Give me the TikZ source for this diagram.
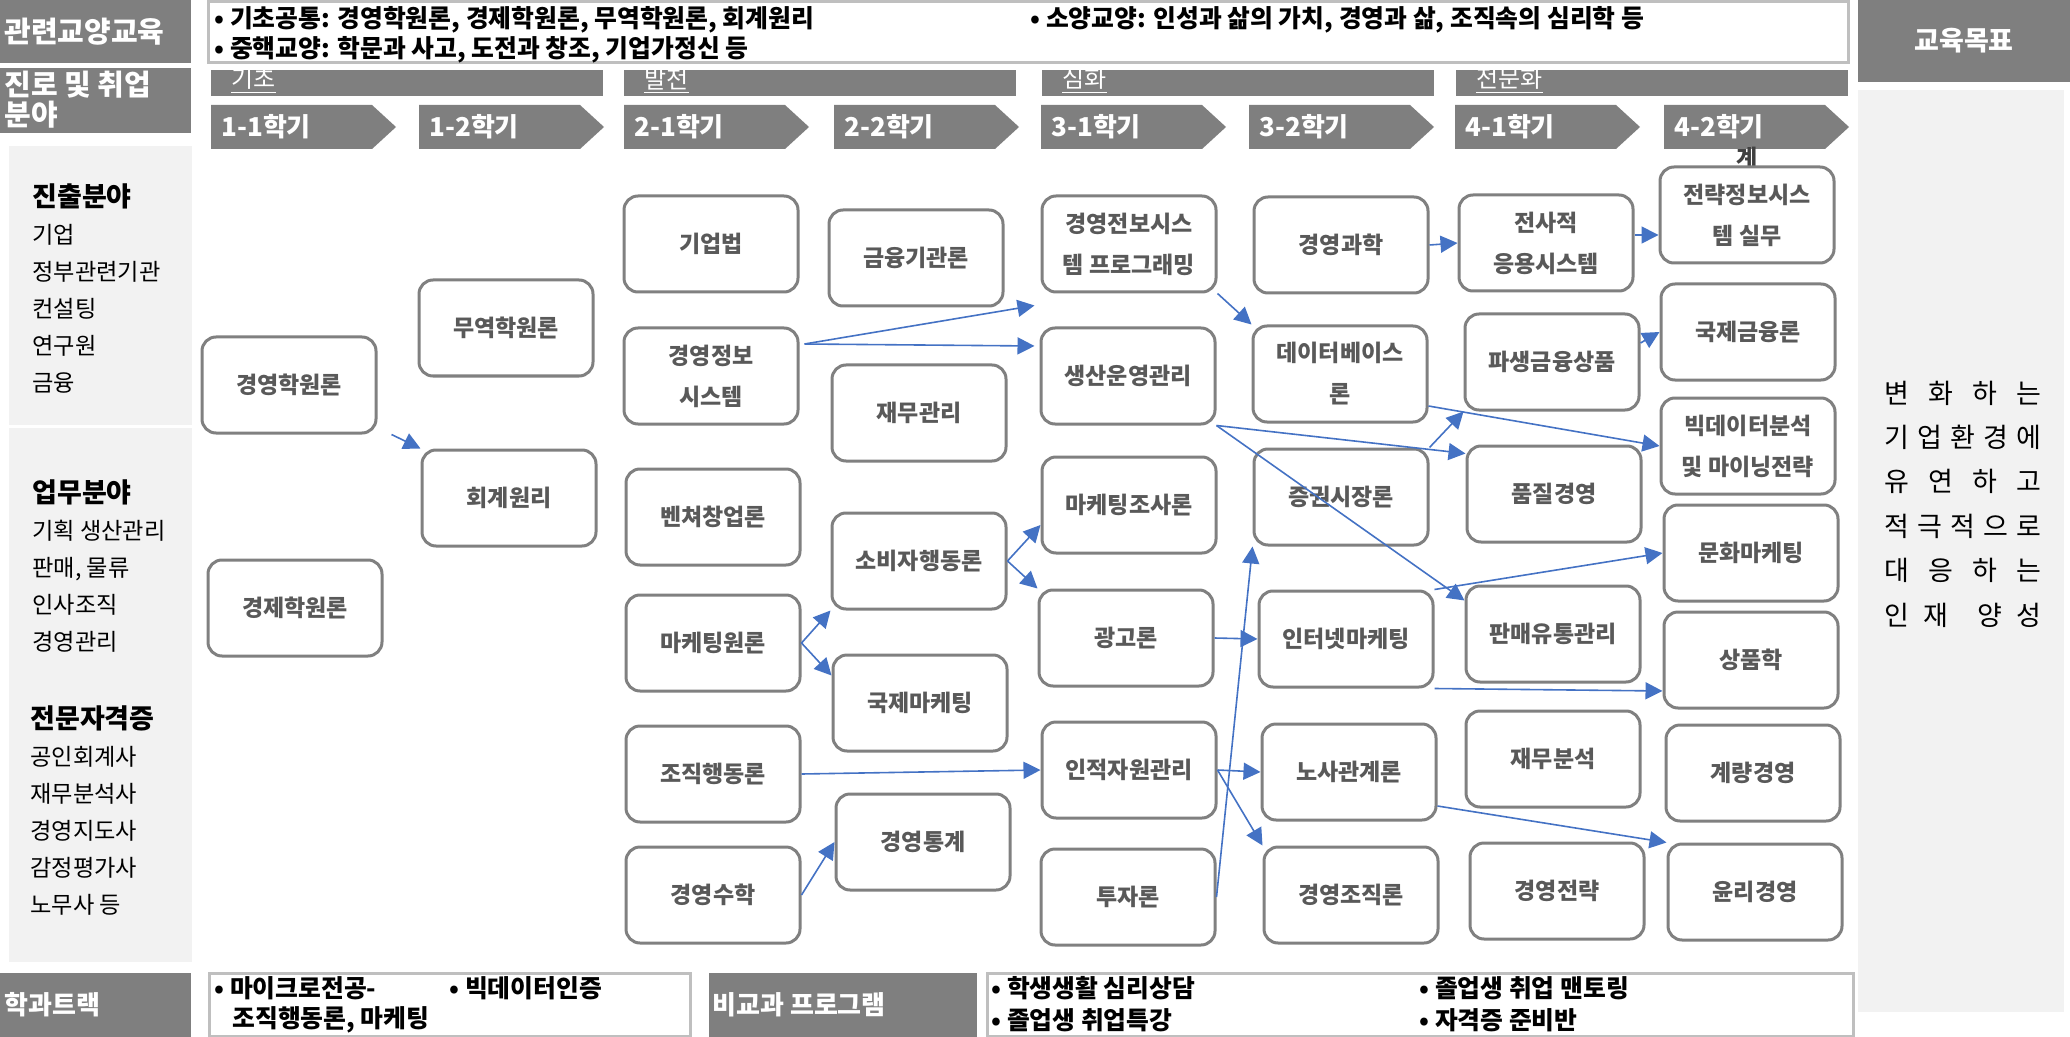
\documentclass[tikz,border=0pt]{standalone}
\usepackage{fontspec}
\setmainfont{Noto Sans CJK KR}
\usetikzlibrary{arrows.meta}
\definecolor{hdrgray}{HTML}{7F7F7F}
\definecolor{panelgray}{HTML}{F2F2F2}
\definecolor{linegray}{HTML}{BFBFBF}
\definecolor{boxgray}{HTML}{808080}
\definecolor{txtgray}{HTML}{595959}
\definecolor{arrblue}{HTML}{4472C4}

\begin{document}
\begin{tikzpicture}[x=0.5pt,y=-0.5pt,
    course/.style={draw=boxgray, line width=1.5pt, rounded corners=7pt, fill=white,
      minimum width=87pt, minimum height=48pt, align=center, text=txtgray,
      font=\fontsize{11.5}{20.5}\selectfont\bfseries},
    hdrtext/.style={text=white, anchor=west, inner sep=0pt, align=left,
      font=\fontsize{13}{15}\selectfont\bfseries},
    infotext/.style={anchor=west, inner sep=0pt, font=\fontsize{12.4}{14}\selectfont\bfseries},
    sidetext/.style={anchor=west, inner sep=0pt, align=left, font=\fontsize{11.6}{18.5}\selectfont},
    arr/.style={draw=arrblue, line width=0.8pt, -{Triangle[length=8.5pt,width=8.5pt]}}]
  \useasboundingbox (0,0) rectangle (2070,1037);

  % side panels
  \fill[panelgray] (9,146) rectangle (192,425);
  \fill[panelgray] (9,428) rectangle (192,962);
  \fill[panelgray] (1858,90) rectangle (2064,1012);

  % header rows
  \fill[hdrgray] (0,0) rectangle (191,63);
  \node[hdrtext, font=\fontsize{14.5}{16}\selectfont\bfseries] (hdrgen) at (4,32) {관련교양교육};
  \draw[linegray, line width=1.5pt, fill=white] (208,2) rectangle (1848,63);
  \node[infotext] (gen1) at (214,20) {• 기초공통: 경영학원론, 경제학원론, 무역학원론, 회계원리};
  \node[infotext] (gen2) at (214,50) {• 중핵교양: 학문과 사고, 도전과 창조, 기업가정신 등};
  \node[infotext] (gen3) at (1030,20) {• 소양교양: 인성과 삶의 가치, 경영과 삶, 조직속의 심리학 등};
  \fill[hdrgray] (1858,0) rectangle (2070,82);
  \node[hdrtext, anchor=center, font=\fontsize{13.5}{15}\selectfont\bfseries] (hdrgoal) at (1964,41) {교육목표};
  \fill[hdrgray] (0,68) rectangle (191,133);
  \node[hdrtext, font=\fontsize{14.5}{15}\selectfont\bfseries] (hdrcareer) at (4,100) {진로 및 취업\\분야};

  \foreach \x/\t [count=\i] in {211/기초, 624/발전, 1042/심화, 1456/전문화} {
    \fill[hdrgray] (\x,70) rectangle ++(392,26);
    \node[hdrtext, font=\fontsize{12}{14}\selectfont] (stage\i) at (\x+20,81) {\underline{\t}};
  }
  \foreach \x/\t [count=\i] in {211/1-1학기, 419/1-2학기, 624/2-1학기, 834/2-2학기,
      1041/3-1학기, 1249/3-2학기, 1455/4-1학기, 1664/4-2학기} {
    \fill[hdrgray] (\x,105) -- ++(161,0) -- ++(24,22) -- ++(-24,22) -- ++(-161,0) -- cycle;
    \node[hdrtext, font=\fontsize{13}{15}\selectfont\bfseries] (sem\i) at (\x+10,127) {\t};
  }
  \node[text=black!75, font=\fontsize{11.5}{13}\selectfont\bfseries] (semwrap) at (1747,158) {계};

  % career fields
  \node[sidetext] (fields) at (32,289) {{\fontsize{13.5}{18.5}\selectfont\bfseries 진출분야}\\기업\\정부관련기관\\컨설팅\\연구원\\금융};
  \node[sidetext] (tasks) at (32,566) {{\fontsize{13.5}{18.5}\selectfont\bfseries 업무분야}\\기획 생산관리\\판매, 물류\\인사조직\\경영관리};
  \node[sidetext] (certs) at (30,811) {{\fontsize{13.5}{18.5}\selectfont\bfseries 전문자격증}\\공인회계사\\재무분석사\\경영지도사\\감정평가사\\노무사 등};

  % goal
  \node[align=left, inner sep=0pt, font=\fontsize{13.5}{22.2}\selectfont] (goal) at (1963,504) {%
    \makebox[78.5pt][s]{변\hfill 화\hfill 하\hfill 는}\\
    \makebox[78.5pt][s]{기\hfill 업\hfill 환\hfill 경\hfill 에}\\
    \makebox[78.5pt][s]{유\hfill 연\hfill 하\hfill 고}\\
    \makebox[78.5pt][s]{적\hfill 극\hfill 적\hfill 으\hfill 로}\\
    \makebox[78.5pt][s]{대\hfill 응\hfill 하\hfill 는}\\
    \makebox[78.5pt][s]{인\hfill 재\hfill\hfill 양\hfill 성}};

  % courses
  \node[course] (intro) at (289,385) {경영학원론};
  \node[course] (econ) at (295,608) {경제학원론};
  \node[course] (trade) at (506,328) {무역학원론};
  \node[course] (acct) at (509,498) {회계원리};
  \node[course] (law) at (711,244) {기업법};
  \node[course] (mis) at (711,376) {경영정보\\시스템};
  \node[course] (venture) at (713,517) {벤쳐창업론};
  \node[course] (mkt) at (713,643) {마케팅원론};
  \node[course] (ob) at (713,774) {조직행동론};
  \node[course] (math) at (713,895) {경영수학};
  \node[course] (fininst) at (916,258) {금융기관론};
  \node[course] (finmgt) at (919,413) {재무관리};
  \node[course] (consumer) at (919,561) {소비자행동론};
  \node[course] (intlmkt) at (920,703) {국제마케팅};
  \node[course] (stat) at (923,842) {경영통계};
  \node[course] (misprog) at (1129,244) {경영전보시스\\템 프로그래밍};
  \node[course] (prod) at (1128,376) {생산운영관리};
  \node[course] (mktres) at (1129,505) {마케팅조사론};
  \node[course] (adv) at (1126,638) {광고론};
  \node[course] (hrm) at (1129,770) {인적자원관리};
  \node[course] (invest) at (1128,897) {투자론};
  \node[course] (mgtsci) at (1341,245) {경영과학};
  \node[course] (db) at (1340,374) {데이터베이스\\론};
  \node[course] (secmkt) at (1341,497) {증권시장론};
  \node[course] (inet) at (1346,639) {인터넷마케팅};
  \node[course] (labor) at (1349,772) {노사관계론};
  \node[course] (orgth) at (1351,895) {경영조직론};
  \node[course] (erp) at (1546,243) {전사적\\응용시스템};
  \node[course] (deriv) at (1552,362) {파생금융상품};
  \node[course] (quality) at (1554,494) {품질경영};
  \node[course] (dist) at (1553,634) {판매유통관리};
  \node[course] (finan) at (1553,759) {재무분석};
  \node[course] (strat) at (1557,891) {경영전략};
  \node[course] (sis) at (1747,215) {전략정보시스\\템 실무};
  \node[course] (intlfin) at (1748,332) {국제금융론};
  \node[course] (bigdata) at (1748,446) {빅데이터분석\\및 마이닝전략};
  \node[course] (culture) at (1751,553) {문화마케팅};
  \node[course] (merch) at (1751,660) {상품학};
  \node[course] (quant) at (1753,773) {계량경영};
  \node[course] (ethics) at (1755,892) {윤리경영};

  % prerequisites
  \draw[arr] ([xshift=7pt]intro.south east) -- (acct.north west);
  \draw[arr] ([shift={(2.5pt,16pt)}]mis.east) -- ([shift={(-3pt,-6pt)}]misprog.south west);
  \draw[arr] ([shift={(2.5pt,16pt)}]mis.east) -- ([shift={(-2.5pt,15pt)}]prod.west);
  \draw[arr] (mkt.east) -- (consumer.south west);
  \draw[arr] (mkt.east) -- ([yshift=-11pt]intlmkt.north west);
  \draw[arr] (consumer.east) -- ([yshift=-10pt]mktres.west);
  \draw[arr] (consumer.east) -- (adv.north west);
  \draw[arr] (ob.east) -- (hrm.west);
  \draw[arr] (math.east) -- (stat.west);
  \draw[arr] (misprog.south east) -- (db.north west);
  \draw[arr] (mgtsci.east) -- (erp.west);
  \draw[arr] ([yshift=4pt]erp.east) -- ([yshift=-10pt]sis.west);
  \draw[arr] ([yshift=9.5pt]deriv.east) -- (intlfin.west);
  \draw[arr] (prod.south east) -- ([yshift=-4.5pt]quality.north west);
  \draw[arr] (prod.south east) -- ([yshift=-8pt]dist.north west);
  \draw[arr] ([yshift=-16pt]db.east) -- (bigdata.west);
  \draw[arr] (secmkt.north east) -- (deriv.south west);
  \draw[arr] (adv.east) -- (inet.west);
  \draw[arr] (invest.east) -- (secmkt.south west);
  \draw[arr] (inet.north east) -- (culture.west);
  \draw[arr] (inet.south east) -- ([yshift=-15.5pt]merch.west);
  \draw[arr] (hrm.east) -- (labor.west);
  \draw[arr] (hrm.east) -- (orgth.north west);
  \draw[arr] ([yshift=-17pt]labor.east) -- (ethics.north west);

  % bottom rows
  \fill[hdrgray] (0,973) rectangle (191,1037);
  \node[hdrtext] (hdrtrack) at (4,1005) {학과트랙};
  \draw[linegray, line width=1.5pt, fill=white] (209,973) rectangle (690,1036);
  \node[infotext] (trk1) at (214,988) {• 마이크로전공-};
  \node[infotext] (trk2) at (232,1020) {조직행동론, 마케팅};
  \node[infotext] (trk3) at (449,988) {• 빅데이터인증};
  \fill[hdrgray] (709,973) rectangle (977,1037);
  \node[hdrtext] (hdrextra) at (712,1005) {비교과 프로그램};
  \draw[linegray, line width=1.5pt, fill=white] (987,973) rectangle (1853,1036);
  \node[infotext] (ext1) at (991,988) {• 학생생활 심리상담};
  \node[infotext] (ext2) at (991,1020) {• 졸업생 취업특강};
  \node[infotext] (ext3) at (1419,988) {• 졸업생 취업 맨토링};
  \node[infotext] (ext4) at (1419,1020) {• 자격증 준비반};
\end{tikzpicture}
\end{document}
